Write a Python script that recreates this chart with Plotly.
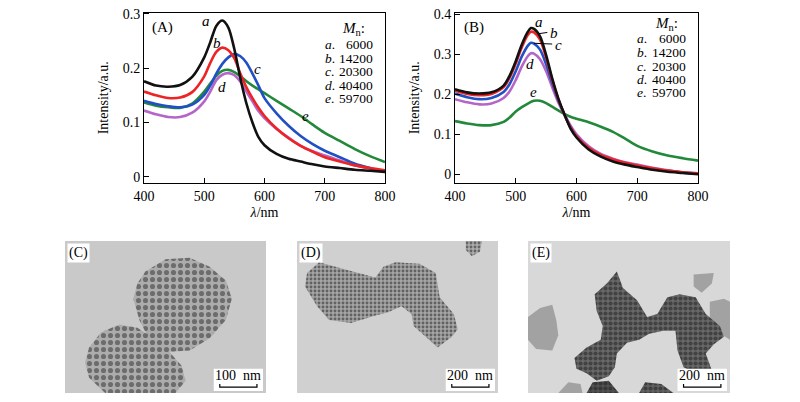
import plotly.graph_objects as go

# ---- spectra data ----
wl_a = [400, 420, 440, 460, 480, 500, 510, 520, 530, 540, 550, 560, 570,
        580, 590, 600, 620, 640, 660, 680, 700, 725, 750, 775, 800]
a_6000 = [.176, .168, .166, .169, .184, .220, .248, .278, .288, .275, .235, .181, .135,
          .100, .073, .058, .042, .033, .028, .023, .019, .016, .013, .011, .009]
a_14200 = [.157, .150, .145, .146, .156, .185, .210, .230, .238, .233, .218, .190, .165,
           .145, .127, .112, .089, .071, .057, .046, .036, .028, .021, .016, .012]
a_20300 = [.140, .134, .130, .128, .133, .151, .168, .190, .208, .220, .226, .222, .210,
           .190, .168, .145, .117, .094, .075, .060, .048, .036, .024, .016, .009]
a_40400 = [.122, .115, .110, .110, .118, .139, .157, .178, .188, .191, .187, .175, .157,
           .139, .121, .108, .088, .072, .057, .047, .039, .030, .021, .015, .011]
a_59700 = [.137, .131, .128, .127, .135, .157, .172, .186, .195, .197, .193, .185, .176,
           .168, .161, .154, .140, .126, .112, .096, .081, .066, .051, .038, .027]

wl_b = [400, 420, 440, 460, 480, 490, 500, 510, 520, 525, 530, 540, 550, 560,
        570, 580, 590, 600, 620, 640, 660, 680, 700, 725, 750, 775, 800]
b_6000 = [.213, .205, .202, .205, .222, .247, .283, .325, .357, .366, .364, .345, .298, .240,
          .190, .150, .115, .092, .062, .044, .032, .024, .018, .011, .006, .003, .000]
b_14200 = [.209, .201, .198, .201, .218, .242, .277, .318, .349, .357, .355, .337, .292, .236,
           .188, .150, .117, .095, .066, .048, .037, .029, .022, .015, .009, .005, .002]
b_20300 = [.202, .193, .188, .191, .206, .226, .258, .295, .322, .329, .327, .312, .275, .228,
           .185, .150, .118, .095, .065, .046, .034, .026, .020, .013, .008, .004, .001]
b_40400 = [.188, .180, .175, .177, .191, .208, .236, .270, .296, .303, .302, .288, .258, .218,
           .180, .150, .122, .100, .070, .051, .039, .030, .024, .016, .010, .005, .002]
b_59700 = [.133, .127, .123, .123, .131, .142, .157, .168, .177, .181, .184, .184, .178, .169,
           .160, .151, .144, .139, .130, .119, .106, .089, .071, .057, .047, .040, .034]

series_names = ["a", "b", "c", "d", "e"]
mn_values = ["6000", "14200", "20300", "40400", "59700"]
colors = ["#111111", "#ee2424", "#2150c4", "#b466c8", "#23893a"]

# ---- TEM image outlines (fractions of each image, y measured from top) ----
c_top_x = [.40, .50, .62, .72, .80, .83, .80, .72, .62, .50, .42, .37, .34, .36]
c_top_y = [.20, .12, .11, .17, .26, .38, .52, .64, .72, .73, .65, .52, .38, .28]
c_low_x = [.12, .18, .27, .36, .44, .52, .58, .60, .55, .20, .12, .10]
c_low_y = [.70, .60, .55, .57, .64, .73, .82, .92, 1.0, 1.0, .90, .80]

d_main_x = [.05, .11, .25, .39, .43, .49, .61, .69, .71, .78, .80, .77, .70, .64, .58,
            .57, .52, .45, .39, .27, .16, .10, .04]
d_main_y = [.21, .14, .19, .24, .17, .14, .15, .21, .37, .48, .58, .63, .70, .63, .56,
            .48, .43, .47, .49, .54, .52, .43, .30]
d_small_x = [.84, .92, .91, .87, .84]
d_small_y = [0.0, 0.0, .07, .10, .06]

e_main_x = [.23, .29, .36, .37, .34, .33, .39, .44, .47, .54, .59, .64, .69, .75, .83, .88,
            .95, .97, .92, .88, .91, .83, .77, .74, .73, .67, .60, .55, .49, .44, .43, .40,
            .34, .29, .24]
e_main_y = [.77, .70, .65, .56, .46, .35, .28, .20, .31, .39, .50, .48, .37, .35, .37, .48,
            .56, .63, .68, .74, .85, .87, .83, .72, .59, .59, .61, .65, .67, .74, .83, .89,
            .92, .87, .84]
e_blob1_x = [.29, .32, .40, .45]
e_blob1_y = [1.0, .93, .92, 1.0]
e_blob2_x = [.55, .58, .66, .72]
e_blob2_y = [1.0, .93, .94, 1.0]
e_film_x = [[0, .06, .12, .14, .15, .12, .04, 0],
            [.82, .92, .91, .86, .82],
            [.90, .97, 1, 1, .94, .90],
            [.15, .20, .26, .27]]
e_film_y = [[.50, .44, .42, .52, .62, .72, .71, .65],
            [.22, .21, .28, .34, .30],
            [.40, .38, .40, .65, .60, .50],
            [1.0, .93, .94, 1.0]]

SERIF = "Liberation Serif, Times New Roman, serif"
W, H = 800, 402
PAD = 8  # the page body adds an 8px margin around the plot div


def xdom(p0, p1):
    return [(p0 - PAD) / W, (p1 - PAD) / W]


def ydom(top, bottom):
    return [1 - (bottom - PAD) / H, 1 - (top - PAD) / H]


fig = go.Figure()

# spectra
for data, xa, ya, wl in [([a_6000, a_14200, a_20300, a_40400, a_59700], "x", "y", wl_a),
                         ([b_6000, b_14200, b_20300, b_40400, b_59700], "x2", "y2", wl_b)]:
    # draw e first so the others sit on top of it
    for name, ys, col in list(zip(series_names, data, colors))[::-1]:
        fig.add_trace(go.Scatter(x=wl, y=ys, mode="lines", name=name,
                                 line=dict(color=col, width=2.6, shape="spline", smoothing=0.8),
                                 xaxis=xa, yaxis=ya, showlegend=False, hoverinfo="skip"))


# TEM images
def add_blob(xs, ys, ax, fg, bg, size, solidity, shape="."):
    fig.add_trace(go.Scatter(x=xs + xs[:1], y=ys + ys[:1], mode="lines", fill="toself",
                             line=dict(width=0, color=bg), fillcolor=bg,
                             fillpattern=dict(shape=shape, fgcolor=fg, bgcolor=bg,
                                              size=size, solidity=solidity),
                             xaxis="x" + ax, yaxis="y" + ax, showlegend=False,
                             hoverinfo="skip"))


def add_film(xs, ys, ax):
    fig.add_trace(go.Scatter(x=xs + xs[:1], y=ys + ys[:1], mode="lines", fill="toself",
                             line=dict(width=0, color="#a0a0a0"), fillcolor="#a2a2a2",
                             xaxis="x" + ax, yaxis="y" + ax, showlegend=False,
                             hoverinfo="skip"))


add_blob(c_top_x, c_top_y, "3", "#2b2b2b", "#acacac", 7, 0.42)
add_blob(c_low_x, c_low_y, "3", "#2b2b2b", "#acacac", 7, 0.42)
add_blob(d_main_x, d_main_y, "4", "#1e1e1e", "#a6a6a6", 4, 0.42)
add_blob(d_small_x, d_small_y, "4", "#1e1e1e", "#acacac", 4, 0.42)
for fx, fy in zip(e_film_x, e_film_y):
    add_film(fx, fy, "5")
add_blob(e_main_x, e_main_y, "5", "#1c1c1c", "#686868", 5, 0.55)
add_blob(e_blob1_x, e_blob1_y, "5", "#1c1c1c", "#505050", 5, 0.55)
add_blob(e_blob2_x, e_blob2_y, "5", "#1c1c1c", "#606060", 5, 0.55)

axis_common = dict(showline=True, linecolor="black", linewidth=1, mirror=True,
                   ticks="inside", ticklen=5, tickcolor="black", showgrid=False,
                   zeroline=False, automargin=False, ticklabeloverflow="allow",
                   tickfont=dict(family=SERIF, size=14, color="black"))
title_font = dict(family=SERIF, size=14, color="black")

fig.update_layout(
    width=W, height=H, margin=dict(l=0, r=0, t=0, b=0, autoexpand=False),
    paper_bgcolor="white", plot_bgcolor="white",
    font=dict(family=SERIF, color="black"),
    xaxis=dict(domain=xdom(144, 385), range=[400, 800], dtick=100,
               title=dict(text="<i>λ</i>/nm", font=title_font, standoff=4),
               anchor="y", **axis_common),
    yaxis=dict(domain=ydom(12.5, 183), range=[-0.0115, 0.3027], dtick=0.1,
               title=dict(text="Intensity/a.u.", font=title_font, standoff=10),
               anchor="x", **axis_common),
    xaxis2=dict(domain=xdom(455, 698), range=[400, 800], dtick=100,
                title=dict(text="<i>λ</i>/nm", font=title_font, standoff=4),
                anchor="y2", **axis_common),
    yaxis2=dict(domain=ydom(12.5, 183), range=[-0.022, 0.405], dtick=0.1,
                title=dict(text="Intensity/a.u.", font=title_font, standoff=10),
                anchor="x2", **axis_common),
)

tem_domains = {"3": xdom(65, 266), "4": xdom(297, 498), "5": xdom(528, 730)}
tem_bg = {"3": "#c9c9c9", "4": "#d0d0d0", "5": "#d8d8d8"}
tem_label = {"3": "(C)", "4": "(D)", "5": "(E)"}
tem_scale = {"3": "100  nm", "4": "200  nm", "5": "200  nm"}
for k, dom in tem_domains.items():
    fig.update_layout({
        "xaxis" + k: dict(domain=dom, range=[0, 1], visible=False, anchor="y" + k,
                          fixedrange=True, automargin=False),
        "yaxis" + k: dict(domain=ydom(241, 393), range=[1, 0], visible=False,
                          anchor="x" + k, fixedrange=True, automargin=False),
    })
    xr, yr = "x" + k + " domain", "y" + k + " domain"
    fig.add_shape(type="rect", xref=xr, yref=yr, x0=0, x1=1, y0=0, y1=1,
                  fillcolor=tem_bg[k], line=dict(width=0), layer="below")
    # scale bar box
    fig.add_shape(type="rect", xref=xr, yref=yr, x0=0.74, x1=0.985, y0=0.013, y1=0.16,
                  fillcolor="white", line=dict(width=0))
    fig.add_shape(type="path", xref=xr, yref=yr,
                  path="M 0.77 0.06 L 0.77 0.038 L 0.955 0.038 L 0.955 0.06",
                  line=dict(color="black", width=1.2))
    fig.add_annotation(xref=xr, yref=yr, x=0.8625, y=0.112, xanchor="center",
                       yanchor="middle", text=tem_scale[k], showarrow=False,
                       font=dict(family=SERIF, size=14, color="black"))
    fig.add_annotation(xref=xr, yref=yr, x=0.01, y=0.99, xanchor="left", yanchor="top",
                       text=tem_label[k], showarrow=False, bgcolor="white", borderpad=1,
                       font=dict(family=SERIF, size=14, color="black"))

# panel letters and legends
fig.add_annotation(xref="x", yref="y", x=430, y=0.275, text="(A)", showarrow=False,
                   font=dict(family=SERIF, size=15, color="black"))
fig.add_annotation(xref="x2", yref="y2", x=432, y=0.368, text="(B)", showarrow=False,
                   font=dict(family=SERIF, size=15, color="black"))

legend_a_y = [0.243, 0.218, 0.194, 0.169, 0.144]
legend_b_y = [0.341, 0.306, 0.271, 0.237, 0.204]
for xa, ya, ys, head in [("x", "y", legend_a_y, 0.273), ("x2", "y2", legend_b_y, 0.377)]:
    fig.add_annotation(xref=xa, yref=ya, x=748, y=head, text="<i>M</i><sub>n</sub>:",
                       showarrow=False, font=dict(family=SERIF, size=15, color="black"))
    for name, mn, yv in zip(series_names, mn_values, ys):
        fig.add_annotation(xref=xa, yref=ya, x=697, y=yv, xanchor="left",
                           text="<i>%s</i>." % name, showarrow=False,
                           font=dict(family=SERIF, size=13.5, color="black"))
        fig.add_annotation(xref=xa, yref=ya, x=783, y=yv, xanchor="right", text=mn,
                           showarrow=False, font=dict(family=SERIF, size=13.5, color="black"))

# curve letters
lab_a = [(503, 0.287), (521, 0.247), (588, 0.199), (530, 0.165), (668, 0.112)]
for name, (lx, ly) in zip(series_names, lab_a):
    fig.add_annotation(xref="x", yref="y", x=lx, y=ly, text="<i>%s</i>" % name,
                       showarrow=False, font=dict(family=SERIF, size=15, color="black"))
lab_b = [(539, 0.381), (563, 0.353), (571, 0.323), (524, 0.275), (530, 0.205)]
for name, (lx, ly) in zip(series_names, lab_b):
    fig.add_annotation(xref="x2", yref="y2", x=lx, y=ly, text="<i>%s</i>" % name,
                       showarrow=False, font=dict(family=SERIF, size=15, color="black"))
# leader ticks for b and c in panel B
fig.add_shape(type="line", xref="x2", yref="y2", x0=538, y0=0.352, x1=552, y1=0.355,
              line=dict(color="black", width=1))
fig.add_shape(type="line", xref="x2", yref="y2", x0=530, y0=0.328, x1=560, y1=0.326,
              line=dict(color="black", width=1))

fig.write_html("out.html")
